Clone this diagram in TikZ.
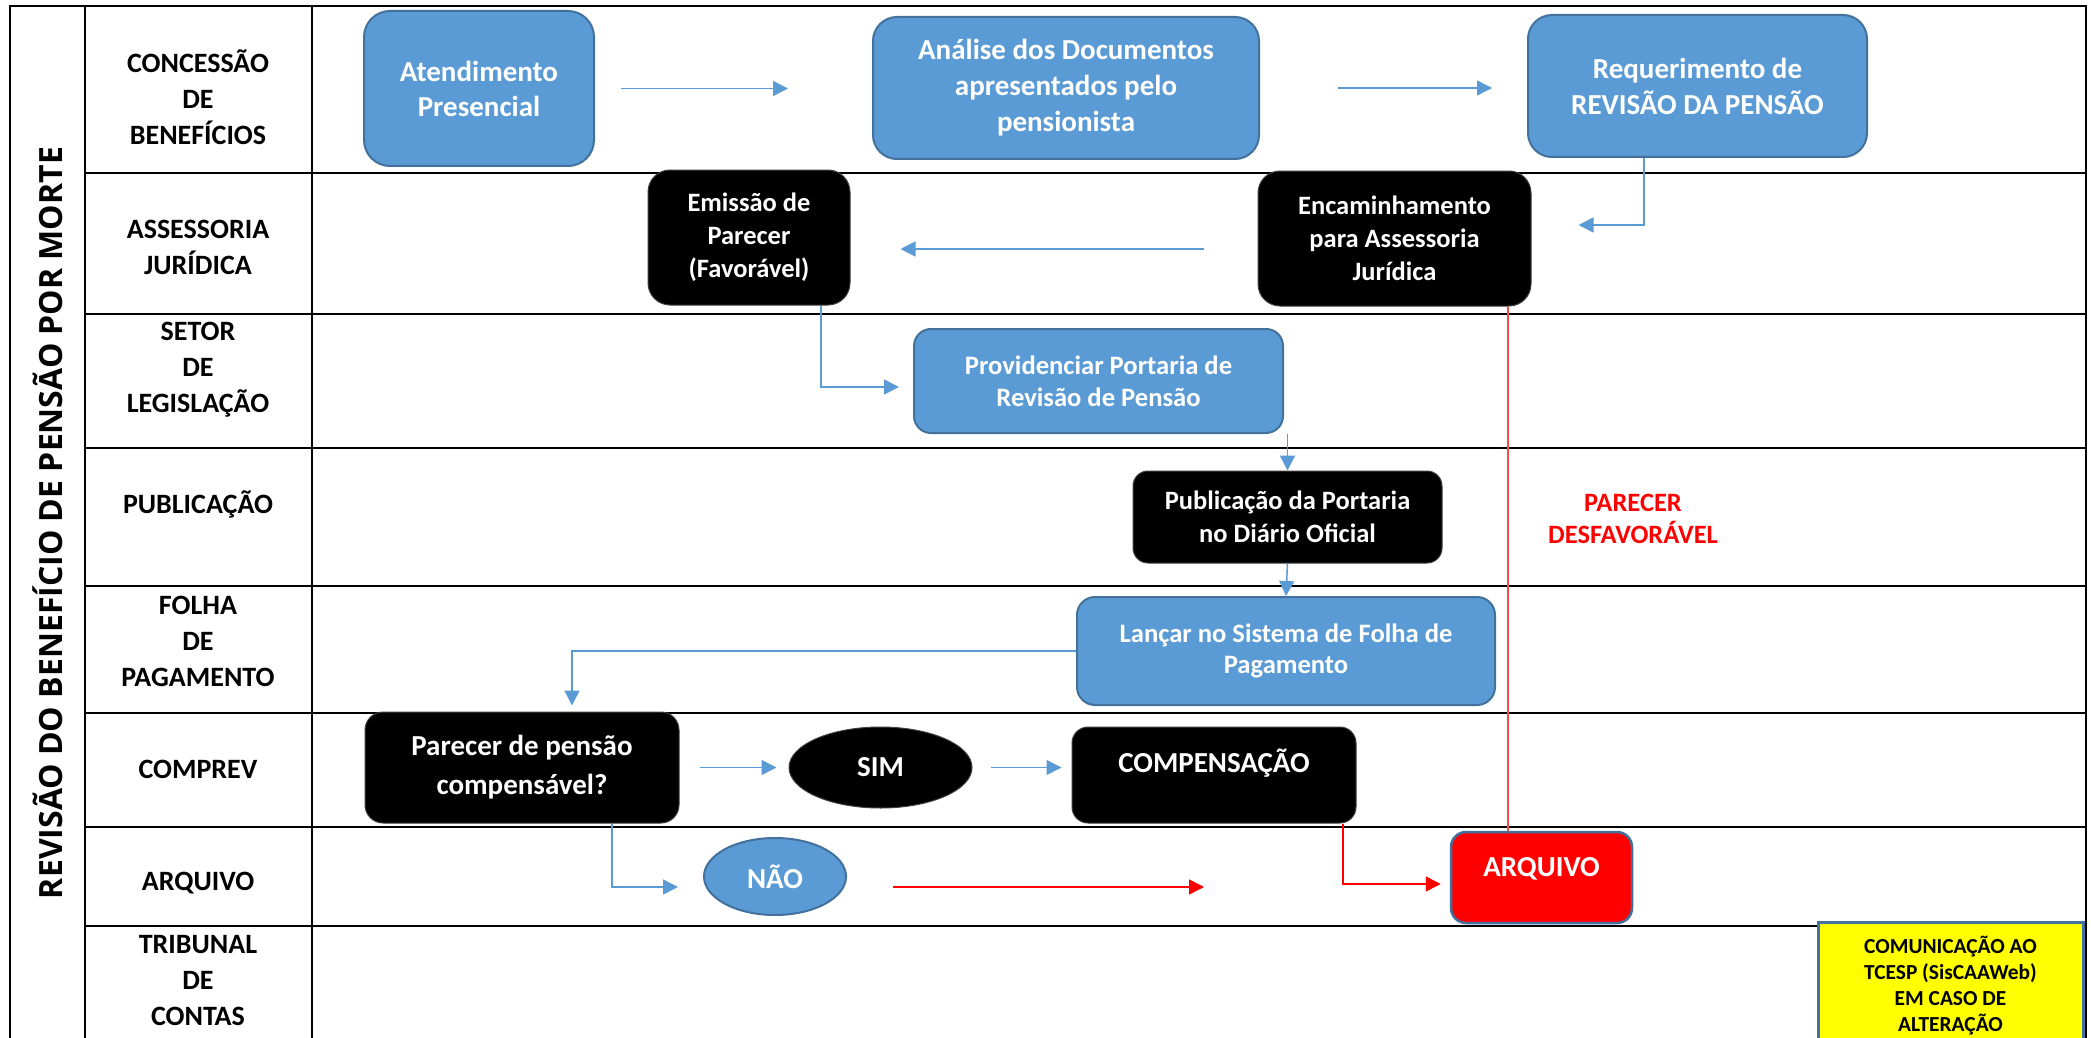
\documentclass[tikz,border=0pt]{standalone}
\usepackage{fontspec}
\setmainfont{Carlito}
\newfontfamily\titlefont{Open Sans}
\usetikzlibrary{arrows.meta,shapes.geometric}
\definecolor{bfill}{HTML}{5B9BD5}
\definecolor{bline}{HTML}{41719C}
\definecolor{conn}{HTML}{5B9BD5}
\definecolor{rd}{HTML}{FF0000}
\definecolor{rdline}{HTML}{FF4848}
\definecolor{ylw}{HTML}{FFFF00}
\tikzset{
  gridline/.style={line width=2.8pt, black},
  lane/.style={font={\bfseries\fontsize{28}{36}\selectfont}, align=center, inner sep=0pt},
  boxbase/.style={inner sep=0pt, align=center, text=white},
  bluebox/.style={boxbase, draw=bline, line width=2pt, fill=bfill},
  blackbox/.style={boxbase, draw=black!75, line width=1pt, fill=black},
  fbig/.style={font={\bfseries\fontsize{29}{36}\selectfont}},
  fmid/.style={font={\bfseries\fontsize{26.5}{33}\selectfont}},
  barrow/.style={draw=conn, line width=1.5pt, -{Triangle[length=15pt,width=15pt]}},
  rarrow/.style={draw=rd, line width=1.5pt, -{Triangle[length=15pt,width=15pt]}},
}
\begin{document}
\begin{tikzpicture}[x=1pt,y=-1pt]
\clip (0,0) rectangle (2091,1038);
\fill[white] (0,0) rectangle (2091,1038);

% grid
\draw[gridline] (10,1050) -- (10,6) -- (2086,6) -- (2086,1050);
\draw[gridline] (85,6) -- (85,1050);
\draw[gridline] (312,6) -- (312,1050);
\foreach \yy in {173,314,448,586,713,827,926} \draw[gridline] (85,\yy) -- (2086,\yy);

% title
\node[rotate=90, font={\titlefont\bfseries\fontsize{32}{38}\selectfont}, inner sep=0pt] (title) at (48,523) {REVISÃO DO BENEFÍCIO DE PENSÃO POR MORTE};

% lane labels
\node[lane] (l1) at (198,97) {CONCESSÃO\\DE\\BENEFÍCIOS};
\node[lane] (l2) at (198,247) {ASSESSORIA\\JURÍDICA};
\node[lane] (l3) at (198,370) {SETOR\\DE\\LEGISLAÇÃO};
\node[lane] (l4) at (198,504) {PUBLICAÇÃO};
\node[lane] (l5) at (198,641) {FOLHA\\DE\\PAGAMENTO};
\node[lane] (l6) at (198,769) {COMPREV};
\node[lane] (l7) at (198,883) {ARQUIVO};
\node[lane] (l8) at (198,981) {TRIBUNAL\\DE\\CONTAS};

% process boxes
\node[bluebox, fbig, font={\bfseries\fontsize{29}{35}\selectfont}, rounded corners=26pt, minimum width=230pt, minimum height=155pt] (atend) at (479,88.5) {Atendimento\\Presencial};
\node[bluebox, fbig, rounded corners=24pt, minimum width=386pt, minimum height=142pt] (anal) at (1066,88) {Análise dos Documentos\\apresentados pelo\\pensionista};
\node[bluebox, fbig, rounded corners=24pt, minimum width=339pt, minimum height=142pt] (req) at (1697.5,86) {Requerimento de\\REVISÃO DA PENSÃO};
\node[blackbox, fmid, rounded corners=22pt, minimum width=202pt, minimum height=135pt] (emi) at (749,237.5) {Emissão de\\Parecer\\(Favorável)};
\node[blackbox, fmid, rounded corners=22pt, minimum width=273pt, minimum height=135pt] (enc) at (1394.5,238.5) {Encaminhamento\\para Assessoria\\Jurídica};
\node[bluebox, font={\bfseries\fontsize{26.6}{32}\selectfont}, rounded corners=17pt, minimum width=369pt, minimum height=104pt] (prov) at (1098.5,381) {Providenciar Portaria de\\Revisão de Pensão};
\node[blackbox, fmid, rounded corners=15pt, minimum width=309pt, minimum height=92pt] (pub) at (1287.5,517) {Publicação da Portaria\\no Diário Oficial};
\node[bluebox, font={\bfseries\fontsize{26.6}{31}\selectfont}, rounded corners=18pt, minimum width=418pt, minimum height=108pt] (lanc) at (1286,651) {Lançar no Sistema de Folha de\\Pagamento};
\node[blackbox, font={\bfseries\fontsize{29}{39}\selectfont}, rounded corners=18pt, minimum width=314pt, minimum height=111pt] (par) at (522,767.5) {Parecer de pensão\\compensável?};
\node[blackbox, fbig, ellipse, minimum width=183pt, minimum height=81pt] (sim) at (880.5,767.5) {SIM};
\node[blackbox, fbig, rounded corners=16pt, minimum width=284pt, minimum height=96pt, text height=20pt, text depth=25pt] (comp) at (1214,775) {COMPENSAÇÃO};
\node[bluebox, fbig, ellipse, minimum width=142pt, minimum height=77pt] (nao) at (775,876.5) {NÃO};
\node[boxbase, fbig, draw=bline, line width=2.5pt, fill=rd, rounded corners=15pt, minimum width=181pt, minimum height=91pt, text height=20pt, text depth=22pt] (arq) at (1541.5,877.5) {ARQUIVO};
\node[draw=bline, line width=3pt, fill=ylw, text=black, align=center, inner sep=0pt, font={\bfseries\fontsize{21.4}{26}\selectfont}, minimum width=265pt, minimum height=128pt] (tce) at (1950.5,986) {COMUNICAÇÃO AO\\TCESP (SisCAAWeb)\\EM CASO DE\\ALTERAÇÃO};
\node[text=rd, align=center, inner sep=0pt, font={\bfseries\fontsize{26.5}{32}\selectfont}] (desf) at (1633,519) {PARECER\\DESFAVORÁVEL};

% connectors
\draw[barrow, shorten <=26pt, shorten >=84pt] (atend.east) -- (anal.west |- atend.east);
\draw[barrow, shorten <=78pt, shorten >=35pt] (anal.east) -- (req.west |- anal.east);
\draw[barrow, shorten >=47pt] (req.south -| 1644,0) |- (enc.east |- 0,225);
\draw[barrow, shorten <=54pt, shorten >=50pt] (enc.west |- 0,249) -- (emi.east |- 0,249);
\draw[barrow, shorten >=14pt] (emi.south -| 821,0) |- (prov.west |- 0,387);
\draw[barrow] (pub.north |- prov.south) -- (pub.north);
\draw[barrow] (pub.south) -- (lanc.north);
\draw[barrow, shorten >=6pt] (lanc.west) -| (par.north -| 572,0);
\draw[barrow, shorten <=20pt, shorten >=12pt] (par.east) -- (sim.west);
\draw[barrow, shorten <=18pt, shorten >=10pt] (sim.east) -- (comp.west |- sim.east);
\draw[barrow, shorten >=25pt] (par.south -| 612,0) |- (nao.west |- 0,887);
\coordinate (naoend) at (1204,887);
\draw[rarrow, shorten <=46pt] (nao.east |- 0,887) -- (naoend);
\draw[rarrow, shorten >=9pt] (comp.south -| 1343,0) |- (arq.west |- 0,884);
\draw[draw=rdline, line width=1.5pt] (enc.south -| 1508,0) -- (arq.north -| 1508,0);
\end{tikzpicture}
\end{document}
